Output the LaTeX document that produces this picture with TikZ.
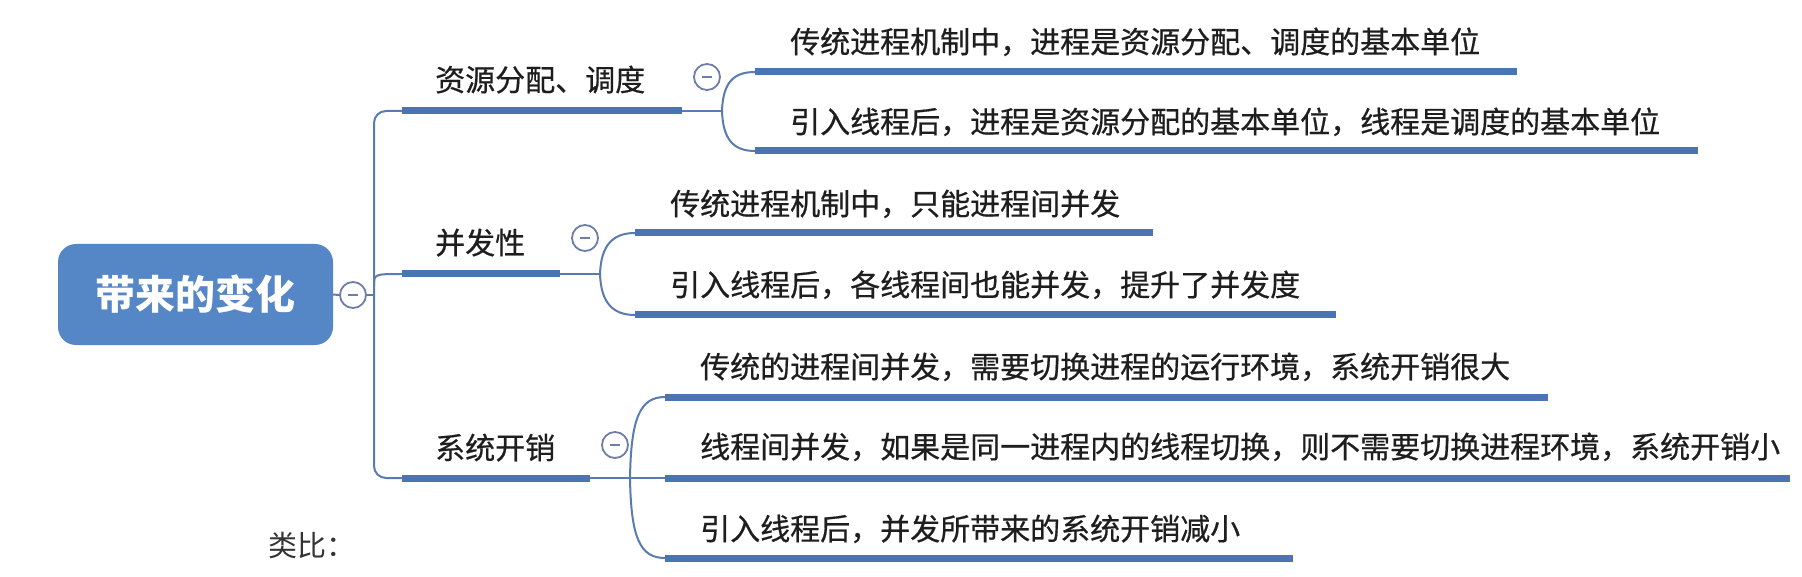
\documentclass[tikz,border=0pt]{standalone}
\usepackage{fontspec}
\setmainfont{Noto Sans CJK SC}
\newfontfamily\leaffont[FakeBold=0.6]{Noto Sans CJK SC}
\definecolor{rootblue}{HTML}{5586C6}
\definecolor{linkblue}{HTML}{5A7BB0}
\definecolor{barblue}{HTML}{4B74B2}
\definecolor{txt}{HTML}{1E1E1E}
\definecolor{btn}{HTML}{6E7EA6}
\begin{document}
\begin{tikzpicture}[x=1pt,y=-1pt,
  leaf/.style={anchor=base west, inner sep=0pt, font=\leaffont\fontsize{30}{36}\selectfont, text=txt},
  bar/.style={line width=7pt, draw=barblue, line cap=butt},
  link/.style={line width=2pt, draw=linkblue},
  btnc/.style={circle, draw=btn, line width=1.8pt, minimum size=26pt, inner sep=0pt, fill=white,
    path picture={\draw[btn, line width=2pt] (path picture bounding box.center) ++(-5pt,0) -- ++(10pt,0);}},
  rootbox/.style={fill=rootblue, rounded corners=18pt, minimum width=275pt, minimum height=101pt,
    inner sep=0pt, text=white, font=\fontsize{40}{48}\selectfont\bfseries}
]
\useasboundingbox[fill=white] (0,0) rectangle (1802,577);

% root
\node[rootbox] (root) at (195.5,294.5) {带来的变化};
\node[btnc] (c0) at (353,295) {};

% trunk coordinates
\coordinate (tmid) at (374,295);
\coordinate (ttop) at (374,111);
\coordinate (tbot) at (374,478);
\coordinate (tm2) at (374,286);

% branch bars
\coordinate (r1s) at (402,111); \coordinate (r1e) at (682,111); \coordinate (f1) at (722,111);
\coordinate (r2s) at (402,274); \coordinate (r2e) at (560,274); \coordinate (f2) at (600,274);
\coordinate (r3s) at (402,478); \coordinate (r3e) at (590,478); \coordinate (f3) at (630,478);

% leaf bars
\coordinate (s11) at (755,72);  \coordinate (e11) at (1517,72);
\coordinate (s12) at (755,151); \coordinate (e12) at (1698,151);
\coordinate (s21) at (635,233); \coordinate (e21) at (1153,233);
\coordinate (s22) at (635,315); \coordinate (e22) at (1336,315);
\coordinate (s31) at (665,397); \coordinate (e31) at (1548,397);
\coordinate (s32) at (665,478); \coordinate (e32) at (1790,478);
\coordinate (s33) at (665,558); \coordinate (e33) at (1293,558);

% links
\draw[link] (root.east) -- (c0.west);
\draw[link] (c0.east) -- (tmid);
\draw[link, rounded corners=12pt] (r1s) -- (ttop) -- (tbot) -- (r3s);
\draw[link] (tm2) .. controls (374,274) .. (r2s);

\draw[link] (r1e) -- (f1);
\draw[link] (r2e) -- (f2);
\draw[link] (r3e) -- (f3);

\draw[link] (f1) .. controls +(1,-28) and +(-22,0) .. (s11);
\draw[link] (f1) .. controls +(1,28) and +(-22,0) .. (s12);
\draw[link] (f2) .. controls +(1,-29) and +(-22,0) .. (s21);
\draw[link] (f2) .. controls +(1,29) and +(-22,0) .. (s22);
\draw[link] (f3) .. controls +(1,-60) and +(-25,0) .. (s31);
\draw[link] (f3) -- (s32);
\draw[link] (f3) .. controls +(1,60) and +(-25,0) .. (s33);

% bars
\draw[bar] (r1s) -- (r1e);
\draw[bar] (r2s) -- (r2e);
\draw[bar] (r3s) -- (r3e);
\draw[bar] (s11) -- (e11);
\draw[bar] (s12) -- (e12);
\draw[bar] (s21) -- (e21);
\draw[bar] (s22) -- (e22);
\draw[bar] (s31) -- (e31);
\draw[bar] (s32) -- (e32);
\draw[bar] (s33) -- (e33);

% buttons
\node[btnc] (c1) at (707,77) {};
\node[btnc] (c2) at (585,238) {};
\node[btnc] (c3) at (615,445) {};

% branch labels
\node[leaf] (b1) at (435,91) {资源分配、调度};
\node[leaf] (b2) at (435,254) {并发性};
\node[leaf] (b3) at (435,459) {系统开销};

% leaf labels
\node[leaf] (l11) at (790,53) {传统进程机制中，进程是资源分配、调度的基本单位};
\node[leaf] (l12) at (790,133) {引入线程后，进程是资源分配的基本单位，线程是调度的基本单位};
\node[leaf] (l21) at (670,215) {传统进程机制中，只能进程间并发};
\node[leaf] (l22) at (670,296) {引入线程后，各线程间也能并发，提升了并发度};
\node[leaf] (l31) at (700,378) {传统的进程间并发，需要切换进程的运行环境，系统开销很大};
\node[leaf] (l32) at (700,458) {线程间并发，如果是同一进程内的线程切换，则不需要切换进程环境，系统开销小};
\node[leaf] (l33) at (700,540) {引入线程后，并发所带来的系统开销减小};

% note
\node[anchor=base west, inner sep=0pt, font=\fontsize{29}{34}\selectfont, text=black!80] (note) at (268,556) {类比：};
\end{tikzpicture}
\end{document}
